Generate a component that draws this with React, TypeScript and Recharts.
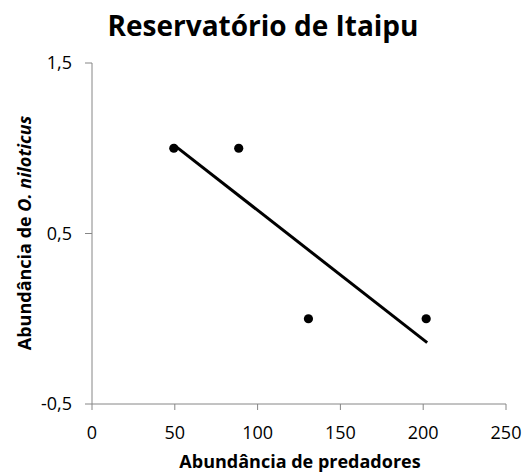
import React from 'react';
import { ScatterChart, Scatter, XAxis, YAxis, ReferenceLine, Label } from 'recharts';

const predadores = [49.4, 88.6, 130.7, 201.8];
const abundanciaNiloticus = [1.0, 1.0, 0.0, 0.0];
const xTicks = [0, 50, 100, 150, 200, 250];
const yTicks = [-0.5, 0.5, 1.5];
// trend line endpoints
const trendX = [49.4, 202.4];
const trendY = [1.02, -0.14];

const points = predadores.map((x, i) => ({ x, y: abundanciaNiloticus[i] }));
const trend = trendX.map((x, i) => ({ x, y: trendY[i] }));

const FONT = '"Open Sans", sans-serif';
const AXIS = '#868686';

const fmt = (v: number) => String(v).replace('.', ',');

const Dot = (props: any) => <circle cx={props.cx} cy={props.cy} r={4.6} fill="#000" />;

export default function App() {
  return (
    <div style={{ position: 'absolute', left: 0, top: 0, width: 526, height: 475, background: '#fff' }}>
      <div
        style={{
          position: 'absolute',
          top: 6,
          left: 0,
          width: 526,
          textAlign: 'center',
          fontFamily: FONT,
          fontWeight: 700,
          fontSize: 28,
          color: '#000',
        }}
      >
        Reservatório de Itaipu
      </div>
      <ScatterChart width={526} height={475} margin={{ top: 63, right: 20, bottom: 41, left: 32 }}>
        <XAxis
          type="number"
          dataKey="x"
          domain={[0, 250]}
          ticks={xTicks}
          height={30}
          tickSize={6}
          tickMargin={16}
          stroke={AXIS}
          tick={{ fill: '#000', fontSize: 18, fontFamily: FONT }}
        >
          <Label
            content={() => (
              <text x={300} y={468} textAnchor="middle" fontFamily={FONT} fontWeight={700} fontSize={18} fill="#000">
                Abundância de predadores
              </text>
            )}
          />
        </XAxis>
        <YAxis
          type="number"
          dataKey="y"
          domain={[-0.5, 1.5]}
          ticks={yTicks}
          width={60}
          tickSize={7}
          tickMargin={13}
          stroke={AXIS}
          tickFormatter={fmt}
          tick={{ fill: '#000', fontSize: 18, fontFamily: FONT }}
        >
          <Label
            content={() => (
              <text
                x={31}
                y={233}
                transform="rotate(-90 31 233)"
                textAnchor="middle"
                fontFamily={FONT}
                fontWeight={700}
                fontSize={18}
                fill="#000"
              >
                Abundância de <tspan fontStyle="italic">O. niloticus</tspan>
              </text>
            )}
          />
        </YAxis>
        <ReferenceLine
          segment={trend}
          stroke="#000"
          strokeWidth={3}
          ifOverflow="visible"
        />
        <Scatter data={points} fill="#000" shape={Dot} isAnimationActive={false} />
      </ScatterChart>
    </div>
  );
}
